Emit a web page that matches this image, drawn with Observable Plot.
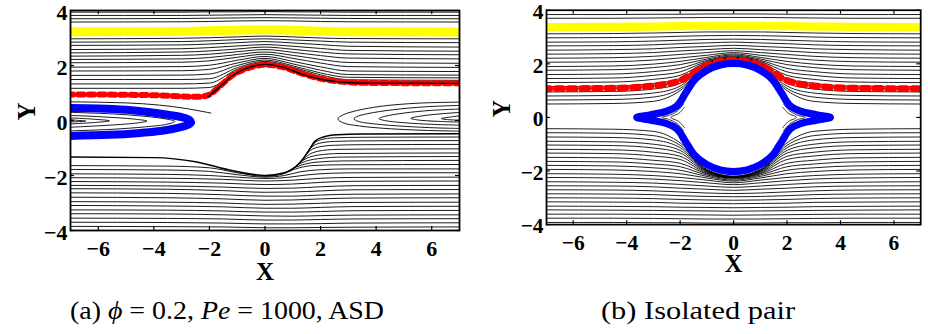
<!DOCTYPE html>
<html>
<head>
<meta charset="utf-8">
<script src="https://cdn.jsdelivr.net/npm/d3@7"></script>
<script src="https://cdn.jsdelivr.net/npm/@observablehq/plot@0.6"></script>
<style>
  html, body { margin: 0; padding: 0; background: #fff; overflow: hidden; }
  body { width: 928px; height: 334px; position: relative; }
  .panel { position: absolute; top: 0; }
  #cap { position: absolute; left: 0; top: 290px; }
  #cap text { font-family: "Liberation Serif", "Times New Roman", serif; font-size: 25px; fill: #000; }
</style>
</head>
<body>
<div id="pa" class="panel" style="left:0"></div>
<div id="pb" class="panel" style="left:470px"></div>
<svg id="cap" width="928" height="44">
  <text x="70" y="29" textLength="314" lengthAdjust="spacingAndGlyphs">(a) <tspan font-style="italic">ϕ</tspan> = 0.2, <tspan font-style="italic">Pe</tspan> = 1000, ASD</text>
  <text x="601" y="29" textLength="194" lengthAdjust="spacingAndGlyphs">(b) Isolated pair</text>
</svg>
<script>
// ---------- axes ----------
const xTicks = [-6, -4, -2, 0, 2, 4, 6];
const yTicks = [-4, -2, 0, 2, 4];

// ---------- panel (a): phi = 0.2, Pe = 1000 ----------
// upper streamlines, y at shared x knots
const upKnotsA = [-7.1, -3, -2, -1, 0, 1, 2, 3, 7.1];
const upperA = [
  [1.17, 1.17, 1.20, 1.80, 2.08, 1.86, 1.56, 1.40, 1.38],
  [1.33, 1.33, 1.36, 1.86, 2.11, 1.90, 1.60, 1.43, 1.41],
  [1.49, 1.49, 1.52, 1.92, 2.15, 1.94, 1.66, 1.48, 1.46],
  [1.64, 1.65, 1.69, 2.00, 2.20, 1.99, 1.73, 1.57, 1.55],
  [1.80, 1.81, 1.86, 2.09, 2.26, 2.06, 1.83, 1.67, 1.65],
  [1.94, 1.96, 2.01, 2.19, 2.33, 2.15, 1.95, 1.80, 1.78],
  [2.10, 2.12, 2.17, 2.30, 2.41, 2.26, 2.09, 1.96, 1.93],
  [2.22, 2.24, 2.29, 2.40, 2.49, 2.37, 2.22, 2.11, 2.08],
  [2.34, 2.37, 2.41, 2.50, 2.58, 2.48, 2.36, 2.27, 2.24],
  [2.46, 2.49, 2.53, 2.60, 2.67, 2.59, 2.49, 2.42, 2.39],
  [2.58, 2.61, 2.65, 2.71, 2.76, 2.70, 2.62, 2.55, 2.52],
  [2.73, 2.75, 2.78, 2.83, 2.87, 2.82, 2.76, 2.70, 2.67],
  [2.85, 2.87, 2.90, 2.94, 2.97, 2.93, 2.89, 2.85, 2.83],
  [2.97, 2.99, 3.01, 3.04, 3.07, 3.04, 3.00, 2.98, 2.97],
  [3.58, 3.59, 3.60, 3.62, 3.63, 3.62, 3.60, 3.59, 3.58],
  [3.70, 3.71, 3.72, 3.73, 3.74, 3.73, 3.72, 3.71, 3.70],
  [3.82, 3.82, 3.83, 3.84, 3.85, 3.84, 3.83, 3.82, 3.82],
  [3.94, 3.94, 3.95, 3.95, 3.96, 3.95, 3.95, 3.94, 3.94]
];
const yellowA = [3.23, 3.24, 3.26, 3.28, 3.30, 3.28, 3.25, 3.23, 3.22];

// dividing streamline over the pair and the marked trajectory along it
const sepUpperA = [[-2.05, 0.86], [-1.6, 1.25], [-1.18, 1.62], [-0.8, 1.84], [-0.4, 1.98], [0, 2.04], [0.6, 1.95], [1.35, 1.68], [2.1, 1.48], [2.8, 1.39], [3.5, 1.36], [7.1, 1.35]];
const redA = [[-7.1, 0.95], [-4, 0.92], [-2.4, 0.86], [-2.05, 0.92], [-1.6, 1.27], [-1.18, 1.64], [-0.8, 1.84], [-0.4, 1.97], [0, 2.03], [0.6, 1.95], [1.35, 1.7], [2.1, 1.5], [2.8, 1.41], [3.5, 1.37], [7.1, 1.35]];
const hugA = [[-7.1, 0.68], [-5, 0.64], [-3.8, 0.56], [-2.8, 0.43], [-2.2, 0.32], [-1.95, 0.27]];

// closed-orbit region on the left, its boundary and inner orbits
const blueA = [[-7.3, 0.46], [-6, 0.44], [-5, 0.39], [-4.2, 0.31], [-3.5, 0.21], [-3.0, 0.12], [-2.72, 0.02], [-2.66, -0.07], [-2.8, -0.17], [-3.1, -0.26], [-3.7, -0.37], [-4.6, -0.46], [-5.6, -0.52], [-7.3, -0.57]];
const eddyLeftA = [
  [[-7.1, 0.30], [-5.5, 0.24], [-4.3, 0.15], [-3.6, 0.06], [-3.25, -0.03], [-3.5, -0.13], [-4.3, -0.23], [-5.5, -0.32], [-7.1, -0.38]],
  [[-7.1, 0.19], [-5.8, 0.13], [-4.7, 0.05], [-4.25, -0.02], [-4.6, -0.09], [-5.6, -0.17], [-7.1, -0.25]],
  [[-7.1, 0.10], [-6.2, 0.05], [-5.6, -0.01], [-6.1, -0.07], [-7.1, -0.13]],
  [[-7.1, 0.04], [-6.7, 0.00], [-6.45, -0.02], [-6.7, -0.04], [-7.1, -0.06]]
];
// wake orbits on the right
const eddyRightA = [
  [[7.1, 0.67], [5.5, 0.63], [4.2, 0.52], [3.3, 0.36], [2.8, 0.2], [2.62, 0.06], [2.8, -0.08], [3.4, -0.2], [4.5, -0.3], [5.8, -0.36], [7.1, -0.39]],
  [[7.1, 0.55], [5.8, 0.5], [4.6, 0.39], [3.7, 0.25], [3.3, 0.14], [3.2, 0.06], [3.35, -0.03], [4, -0.13], [5, -0.21], [6.2, -0.27], [7.1, -0.29]],
  [[7.1, 0.42], [6, 0.37], [5, 0.27], [4.35, 0.16], [4.1, 0.07], [4.3, 0.0], [5, -0.08], [6, -0.14], [7.1, -0.17]],
  [[7.1, 0.30], [6.3, 0.24], [5.6, 0.16], [5.25, 0.08], [5.5, 0.02], [6.2, -0.03], [7.1, -0.06]],
  [[7.1, 0.18], [6.7, 0.13], [6.35, 0.07], [6.6, 0.03], [7.1, 0.01]]
];

// lower dividing streamline and the lines that leave it downstream
const sepLowerA = [[-7.1, -1.33], [-4, -1.35], [-2.5, -1.5], [-1.2, -1.82], [0, -2.0], [0.7, -1.9], [1.1, -1.68], [1.4, -1.35], [1.6, -1.05], [1.8, -0.75], [2.1, -0.6], [2.6, -0.52], [3.5, -0.49], [7.1, -0.48]];
const branchA = [
  [[1.55, -1.12], [1.72, -0.88], [2.0, -0.7], [2.5, -0.63], [3.5, -0.61], [7.1, -0.6]],
  [[1.45, -1.27], [1.65, -1.0], [1.95, -0.83], [2.5, -0.76], [3.5, -0.74], [7.1, -0.73]],
  [[1.35, -1.42], [1.55, -1.16], [1.9, -0.97], [2.5, -0.9], [3.5, -0.88], [7.1, -0.87]],
  [[1.25, -1.55], [1.5, -1.3], [1.9, -1.12], [2.6, -1.05], [3.5, -1.04], [7.1, -1.03]],
  [[1.1, -1.68], [1.4, -1.43], [1.9, -1.26], [2.7, -1.2], [7.1, -1.18]],
  [[0.95, -1.78], [1.3, -1.55], [1.9, -1.39], [2.8, -1.33], [7.1, -1.31]],
  [[0.75, -1.88], [1.15, -1.68], [1.8, -1.52], [2.8, -1.47], [7.1, -1.45]],
  [[-7.1, -1.64], [-3.5, -1.66], [-2, -1.72], [-1, -1.9], [0, -2.03], [0.6, -1.96], [1.1, -1.76], [1.7, -1.64], [2.8, -1.61], [7.1, -1.6]],
  [[-7.1, -1.78], [-3.5, -1.8], [-2, -1.85], [-1, -1.97], [0, -2.06], [0.7, -2.0], [1.3, -1.86], [2.0, -1.79], [3, -1.76], [7.1, -1.76]],
  [[-7.1, -1.94], [-3.5, -1.96], [-2, -2.0], [-1, -2.06], [0, -2.11], [0.8, -2.07], [1.5, -1.98], [2.3, -1.92], [3.5, -1.9], [7.1, -1.9]]
];
const lowKnotsA = [-7.1, -3.5, -1.5, 0, 1, 2, 3.2, 7.1];
const lowerA = [
  [-2.08, -2.10, -2.14, -2.20, -2.17, -2.10, -2.07, -2.06],
  [-2.22, -2.24, -2.28, -2.33, -2.31, -2.25, -2.21, -2.20],
  [-2.36, -2.38, -2.42, -2.47, -2.46, -2.41, -2.37, -2.36],
  [-2.48, -2.50, -2.55, -2.61, -2.60, -2.56, -2.52, -2.51],
  [-2.63, -2.65, -2.70, -2.75, -2.75, -2.71, -2.68, -2.67],
  [-2.79, -2.81, -2.85, -2.90, -2.89, -2.85, -2.82, -2.81],
  [-2.95, -2.97, -3.00, -3.05, -3.04, -3.01, -2.98, -2.97],
  [-3.09, -3.11, -3.14, -3.19, -3.19, -3.16, -3.13, -3.12],
  [-3.25, -3.26, -3.29, -3.33, -3.33, -3.31, -3.28, -3.27],
  [-3.39, -3.40, -3.43, -3.47, -3.48, -3.46, -3.44, -3.43],
  [-3.55, -3.56, -3.58, -3.62, -3.62, -3.60, -3.58, -3.57],
  [-3.70, -3.71, -3.73, -3.76, -3.76, -3.75, -3.73, -3.72],
  [-3.85, -3.86, -3.87, -3.90, -3.90, -3.89, -3.88, -3.87]
];

// ---------- panel (b): isolated pair (fore-aft symmetric) ----------
// upstream half of each trajectory, x from -7 to 0
const halfKnotsB = [-7.1, -4.5, -3, -2, -1, 0];
const upperB = [
  [0.50, 0.52, 0.60, 1.00, 1.95, 2.19],
  [0.65, 0.67, 0.76, 1.08, 1.97, 2.20],
  [0.80, 0.82, 0.91, 1.17, 1.99, 2.21],
  [0.95, 0.97, 1.06, 1.27, 2.01, 2.22],
  [1.15, 1.17, 1.27, 1.45, 2.03, 2.23],
  [1.30, 1.32, 1.42, 1.57, 2.06, 2.24],
  [1.45, 1.47, 1.57, 1.70, 2.09, 2.26],
  [1.60, 1.62, 1.71, 1.83, 2.13, 2.29],
  [1.76, 1.78, 1.86, 1.97, 2.18, 2.33],
  [1.90, 1.92, 1.99, 2.09, 2.24, 2.37],
  [2.06, 2.08, 2.14, 2.22, 2.32, 2.42],
  [2.21, 2.23, 2.28, 2.35, 2.42, 2.49],
  [2.36, 2.38, 2.42, 2.48, 2.53, 2.58],
  [2.51, 2.53, 2.56, 2.61, 2.65, 2.69],
  [2.67, 2.68, 2.71, 2.75, 2.78, 2.81],
  [2.81, 2.82, 2.85, 2.88, 2.91, 2.92],
  [2.97, 2.98, 3.00, 3.03, 3.05, 3.06],
  [3.12, 3.13, 3.15, 3.17, 3.19, 3.19],
  [3.70, 3.70, 3.71, 3.72, 3.73, 3.73],
  [3.84, 3.84, 3.85, 3.85, 3.86, 3.86]
];
const lowerB = [
  [-0.42, -0.44, -0.52, -0.95, -1.94, -2.19],
  [-0.57, -0.59, -0.68, -1.04, -1.96, -2.20],
  [-0.73, -0.75, -0.84, -1.13, -1.98, -2.21],
  [-0.89, -0.91, -1.00, -1.23, -2.00, -2.22],
  [-1.03, -1.05, -1.14, -1.33, -2.02, -2.23],
  [-1.19, -1.21, -1.30, -1.45, -2.05, -2.24],
  [-1.33, -1.35, -1.44, -1.57, -2.08, -2.25],
  [-1.49, -1.51, -1.60, -1.71, -2.11, -2.27],
  [-1.64, -1.66, -1.74, -1.84, -2.15, -2.30],
  [-1.79, -1.81, -1.88, -1.97, -2.20, -2.34],
  [-1.94, -1.96, -2.02, -2.10, -2.26, -2.38],
  [-2.10, -2.12, -2.17, -2.24, -2.34, -2.44],
  [-2.24, -2.26, -2.30, -2.36, -2.44, -2.51],
  [-2.40, -2.42, -2.45, -2.50, -2.56, -2.61],
  [-2.55, -2.56, -2.59, -2.64, -2.68, -2.72],
  [-2.70, -2.71, -2.74, -2.78, -2.82, -2.84],
  [-2.85, -2.86, -2.88, -2.92, -2.95, -2.96],
  [-3.00, -3.01, -3.03, -3.06, -3.08, -3.09],
  [-3.15, -3.16, -3.17, -3.20, -3.21, -3.22],
  [-3.31, -3.32, -3.33, -3.35, -3.36, -3.37],
  [-3.45, -3.46, -3.47, -3.48, -3.49, -3.50],
  [-3.61, -3.61, -3.62, -3.63, -3.64, -3.65],
  [-3.76, -3.76, -3.77, -3.78, -3.79, -3.79],
  [-3.92, -3.92, -3.93, -3.93, -3.94, -3.94]
];
const yellowB = [3.37, 3.38, 3.39, 3.41, 3.42, 3.42];
const redB = [1.07, 1.09, 1.18, 1.38, 1.95, 2.14];

// closed-trajectory boundary around the pair (collision circle with cusped tails)
const blueB = [[-3.62, 0], [-3.1, 0.1], [-2.5, 0.23], [-2.15, 0.4], [-1.98, 0.6], [-1.85, 0.82], [-1.7, 1.06], [-1.45, 1.42], [-1.0, 1.76], [-0.5, 1.96], [0, 2.02],
  [0.5, 1.96], [1.0, 1.76], [1.45, 1.42], [1.7, 1.06], [1.85, 0.82], [1.98, 0.6], [2.15, 0.4], [2.5, 0.23], [3.1, 0.1], [3.62, 0],
  [3.1, -0.1], [2.5, -0.23], [2.15, -0.4], [1.98, -0.6], [1.85, -0.82], [1.7, -1.06], [1.45, -1.42], [1.0, -1.76], [0.5, -1.96], [0, -2.02],
  [-0.5, -1.96], [-1.0, -1.76], [-1.45, -1.42], [-1.7, -1.06], [-1.85, -0.82], [-1.98, -0.6], [-2.15, -0.4], [-2.5, -0.23], [-3.1, -0.1]];
// closed orbits inside the tails (upstream side)
const tipOrbitsB = [
  [[-1.9, 0.62], [-2.15, 0.33], [-2.55, 0.12], [-2.98, 0.0], [-2.55, -0.12], [-2.15, -0.33], [-1.9, -0.62]],
  [[-1.87, 0.5], [-2.1, 0.24], [-2.4, 0.08], [-2.68, 0.0], [-2.4, -0.08], [-2.1, -0.24], [-1.87, -0.5]],
  [[-1.84, 0.38], [-2.05, 0.15], [-2.35, 0.0], [-2.05, -0.15], [-1.84, -0.38]]
];

// ---------- helpers ----------
const SERIF = "'Liberation Serif', 'Times New Roman', serif";
const fmt = d => (d < 0 ? "\u2212" + Math.abs(d) : String(d));
const recs = (paths, tag) => paths.flatMap((p, i) => p.map(([x, y]) => ({id: tag + i, x, y})));
const knotRecs = (xs, rows, tag) => rows.flatMap((r, i) => r.map((y, j) => ({id: tag + i, x: xs[j], y})));
const mirrorX = xs => xs.concat(xs.slice(0, -1).reverse().map(x => -x));
const mirrorRow = r => r.concat(r.slice(0, -1).reverse());
const line = (data, o = {}) => Plot.line(data, {x: "x", y: "y", z: "id", clip: true, stroke: "#000", strokeWidth: 0.9, curve: "monotone-x", ...o});
const label = {fontFamily: SERIF, fontWeight: "bold", fill: "#000"};

const W = 470, H = 290, MT = 10, MB = 60, TICK = 4;

function panel(marginLeft, marginRight, yLabelX, marks) {
  const plotW = W - marginLeft - marginRight, plotH = H - MT - MB;
  return Plot.plot({
    width: W, height: H, marginLeft, marginRight, marginTop: MT, marginBottom: MB,
    x: {domain: [-7, 7], axis: null},
    y: {domain: [-4, 4], axis: null},
    style: {fontFamily: SERIF, background: "transparent", overflow: "visible"},
    marks: [
      ...marks,
      Plot.frame({stroke: "#000", strokeWidth: 1.8}),
      // inward tick marks on all four sides
      Plot.tickX(xTicks, {x: d => d, insetTop: plotH - TICK, stroke: "#000", strokeWidth: 1.2}),
      Plot.tickX(xTicks, {x: d => d, insetBottom: plotH - TICK, stroke: "#000", strokeWidth: 1.2}),
      Plot.tickY(yTicks, {y: d => d, insetRight: plotW - TICK, stroke: "#000", strokeWidth: 1.2}),
      Plot.tickY(yTicks, {y: d => d, insetLeft: plotW - TICK, stroke: "#000", strokeWidth: 1.2}),
      // tick labels
      Plot.text(xTicks, {x: d => d, text: fmt, frameAnchor: "bottom", lineAnchor: "top", dy: 10, fontSize: 22, ...label}),
      Plot.text(yTicks, {y: d => d, text: fmt, frameAnchor: "left", textAnchor: "end", dx: -3, dy: 2, fontSize: 22, ...label}),
      // axis titles
      Plot.text(["X"], {text: d => d, frameAnchor: "bottom", dy: 49, fontSize: 25, ...label}),
      Plot.text(["Y"], {text: d => d, frameAnchor: "left", dx: yLabelX + 7 - marginLeft, rotate: -90, fontSize: 25, ...label})
    ]
  });
}

// ---------- panel (a) ----------
const chartA = panel(70, 11, 19, [
  line(knotRecs(upKnotsA, upperA, "u")),
  line(recs([hugA], "h")),
  line(recs(branchA, "br")),
  line(knotRecs(lowKnotsA, lowerA, "l")),
  line(recs(eddyRightA, "er"), {curve: "catmull-rom"}),
  line(recs(eddyLeftA, "el"), {curve: "catmull-rom"}),
  line(recs([sepLowerA], "sl"), {strokeWidth: 1.5}),
  line(knotRecs(upKnotsA, [yellowA], "y"), {stroke: "#ffff00", strokeWidth: 9}),
  line(recs([redA], "r"), {stroke: "#ff0000", strokeWidth: 6, strokeDasharray: "5.5,5"}),
  line(recs([blueA], "b"), {stroke: "#0000ff", strokeWidth: 8, curve: "catmull-rom"}),
  line(recs([sepUpperA], "su"), {strokeWidth: 1.4})
]);
document.getElementById("pa").append(chartA);

// ---------- panel (b) ----------
const knotsB = mirrorX(halfKnotsB);
const chartB = panel(78, 8, 26, [
  line(knotRecs(knotsB, upperB.map(mirrorRow), "u")),
  line(knotRecs(knotsB, lowerB.map(mirrorRow), "l")),
  line(recs(tipOrbitsB, "tl"), {curve: "catmull-rom", strokeWidth: 0.8}),
  line(recs(tipOrbitsB.map(p => p.map(([x, y]) => [-x, y])), "tr"), {curve: "catmull-rom", strokeWidth: 0.8}),
  line(knotRecs(knotsB, [mirrorRow(yellowB)], "y"), {stroke: "#ffff00", strokeWidth: 8.5}),
  line(knotRecs(knotsB, [mirrorRow(redB)], "r"), {stroke: "#ff0000", strokeWidth: 7, strokeDasharray: "6,7"}),
  line(recs([blueB], "b"), {stroke: "#0000ff", strokeWidth: 7.5, curve: "catmull-rom-closed"})
]);
document.getElementById("pb").append(chartB);
</script>
</body>
</html>
